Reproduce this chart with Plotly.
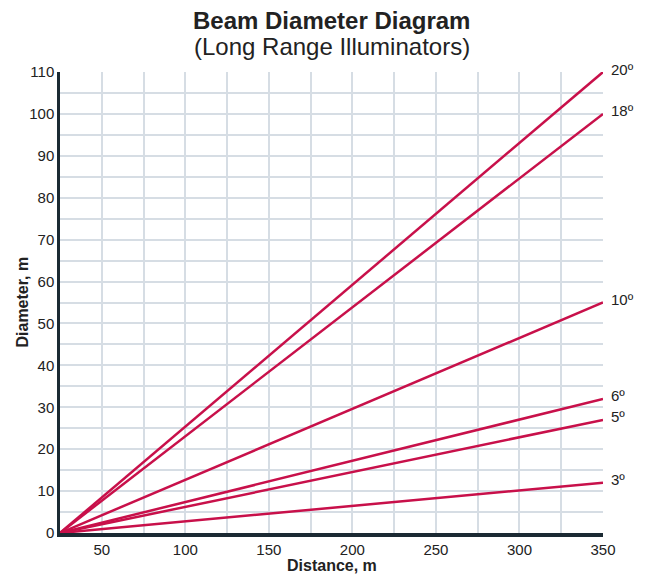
import plotly.graph_objects as go

angles = ["20º", "18º", "10º", "6º", "5º", "3º"]
start_distance = 25
end_distance = 350
end_diameters = [110, 100, 55, 32, 27, 12]

x_ticks = [50, 100, 150, 200, 250, 300, 350]
y_ticks = [0, 10, 20, 30, 40, 50, 60, 70, 80, 90, 100, 110]

line_color = "#c8104a"
text_color = "#222222"
grid_color = "#d6dde4"
font_family = "Liberation Sans, Arial, Helvetica, sans-serif"

fig = go.Figure()
for name, d in zip(angles, end_diameters):
    fig.add_trace(go.Scatter(
        x=[start_distance, end_distance], y=[0, d], mode="lines",
        line=dict(color=line_color, width=2.5), name=name, showlegend=False,
        cliponaxis=False,
    ))
    fig.add_annotation(x=end_distance, y=d, text=name, showarrow=False,
                       xanchor="left", yanchor="middle", xshift=6, yshift=3,
                       font=dict(size=15, color=text_color, family=font_family))

fig.add_annotation(text="<b>Beam Diameter Diagram</b>", xref="paper", yref="paper",
                   x=0.5, y=1, yshift=36, showarrow=False, xanchor="center", yanchor="bottom",
                   font=dict(size=24, color=text_color, family=font_family))
fig.add_annotation(text="(Long Range Illuminators)", xref="paper", yref="paper",
                   x=0.5, y=1, yshift=10, showarrow=False, xanchor="center", yanchor="bottom",
                   font=dict(size=24, color=text_color, family=font_family))
# axis titles
fig.add_annotation(text="<b>Distance, m</b>", xref="paper", yref="paper",
                   x=0.5, y=0, yshift=-32, showarrow=False, xanchor="center", yanchor="middle",
                   font=dict(size=16, color=text_color, family=font_family))
fig.add_annotation(text="<b>Diameter, m</b>", xref="paper", yref="paper", textangle=-90,
                   x=0, xshift=-38, y=0.5, showarrow=False, xanchor="center", yanchor="middle",
                   font=dict(size=16, color=text_color, family=font_family))

fig.update_layout(
    width=645, height=576,
    margin=dict(l=60, r=42, t=72, b=43),
    paper_bgcolor="white", plot_bgcolor="white",
    font=dict(family=font_family, color=text_color, size=15),
)

fig.update_xaxes(
    range=[start_distance, end_distance], tickvals=x_ticks, automargin=False,
    showgrid=True, gridcolor=grid_color, gridwidth=1.5,
    minor=dict(dtick=25, tick0=25, showgrid=True, gridcolor=grid_color, gridwidth=1.5),
    showline=True, linecolor="#1b2a33", linewidth=4, zeroline=False,
    ticks="", tickfont=dict(size=15, color=text_color),
)
fig.update_yaxes(
    range=[0, 110], tickvals=y_ticks, automargin=False,
    showgrid=True, gridcolor=grid_color, gridwidth=1.5,
    minor=dict(dtick=5, tick0=0, showgrid=True, gridcolor=grid_color, gridwidth=1.5),
    showline=True, linecolor="#1b2a33", linewidth=2.5, zeroline=False,
    ticks="", tickfont=dict(size=15, color=text_color),
)

fig.write_html("out.html", config={"displayModeBar": False},
               post_script="document.body.style.margin='0';")
